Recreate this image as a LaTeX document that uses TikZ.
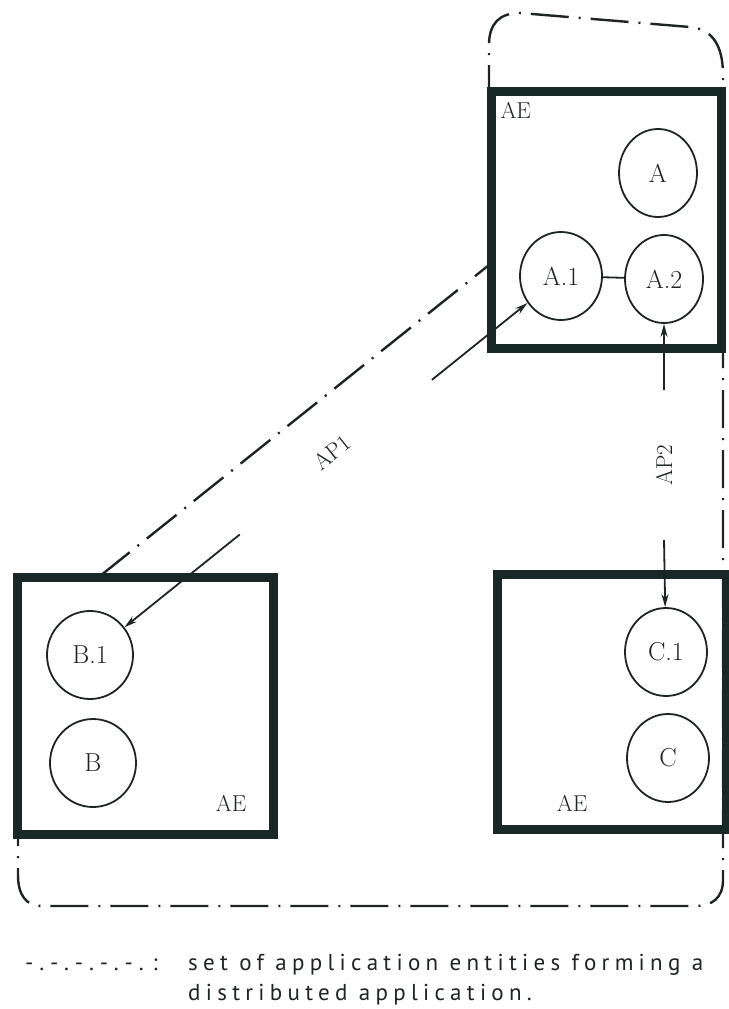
\documentclass[tikz,border=0pt]{standalone}
\usepackage{fontspec}
\usetikzlibrary{arrows.meta,calc,shapes.geometric}
\newfontfamily\legendfont{PT Sans}[LetterSpace=23]
\newfontfamily\keyfont{PT Sans}[LetterSpace=38]
\definecolor{ink}{RGB}{30,36,34}
\definecolor{frame}{RGB}{24,40,38}

\begin{document}
\begin{tikzpicture}[x=1pt,y=-1pt,
  entity/.style={draw=ink, line width=1.8pt, ellipse, minimum width=82pt,
    minimum height=88pt, inner sep=0pt, text=ink,
    font=\fontsize{26}{26}\selectfont},
  aebox/.style={draw=frame, line width=9pt},
  aelabel/.style={font=\fontsize{23}{23}\selectfont, text=ink},
  conn/.style={draw=ink, line width=1.8pt},
  assoc/.style={conn, -{Stealth[length=13pt,width=7pt]}},
  boundary/.style={draw=ink, line width=2.4pt,
    dash pattern=on 38pt off 10pt on 2pt off 10pt},
  aplabel/.style={font=\fontsize{23}{23}\selectfont, text=ink, inner sep=1pt},
  legend/.style={font=\legendfont\fontsize{23}{23}\selectfont, text=ink,
    inner sep=0pt, anchor=base west}]

\useasboundingbox (0,0) rectangle (728,1009);

% distributed application: dash-dot outline
\draw[boundary] (100,576) -- (489,265) -- (489,45)
  .. controls (489,24) and (499,13) .. (520,13) -- (690,27)
  .. controls (712,29) and (723,45) .. (723,75) -- (723,880)
  .. controls (723,898) and (712,906) .. (695,906) -- (42,906)
  .. controls (26,906) and (18,895) .. (18,875) -- (18,577) -- cycle;

% application entity frames
\draw[aebox] (491,91) rectangle (721,348);
\draw[aebox] (17,577) rectangle (273,834);
\draw[aebox] (497,574) rectangle (726,829);

\node[aelabel, anchor=west] (aeA) at (497,110) {AE};
\node[aelabel] (aeB) at (231,803) {AE};
\node[aelabel] (aeC) at (572,803) {AE};

% entities
\node[entity, minimum width=78pt] (a)  at (658,173) {A};
\node[entity] (a1) at (561,276) {A.1};
\node[entity, minimum width=78pt] (a2) at (664,279) {A.2};
\node[entity, minimum width=86pt] (b1) at (90,655) {B.1};
\node[entity, minimum width=86pt] (b)  at (93,763) {B};
\node[entity] (c1) at (666,652) {C.1};
\node[entity] (c)  at (668,758) {C};

\draw[conn] (a1) -- (a2);

% association AP1
\coordinate (p1) at ($(b1)!0.318!(a1)$);
\coordinate (p2) at ($(b1)!0.726!(a1)$);
\draw[assoc] (p1) -- (b1);
\draw[assoc] (p2) -- (a1);
\node[aplabel, rotate=38.7] (ap1) at (332,452) {AP1};

% association AP2
\coordinate (q1) at (664,390);
\coordinate (q2) at (664,540);
\draw[assoc] (q1) -- (a2);
\draw[assoc] (q2) -- (c1);
\node[aplabel, rotate=90] (ap2) at (664,465) {AP2};

% legend
\node[legend, font=\keyfont\fontsize{23}{23}\selectfont] (key) at (25,970) {-.-.-.-.-.:};
\node[legend] (txt1) at (188,970) {set of application entities forming a};
\node[legend] (txt2) at (188,1000) {distributed application.};
\end{tikzpicture}
\end{document}
